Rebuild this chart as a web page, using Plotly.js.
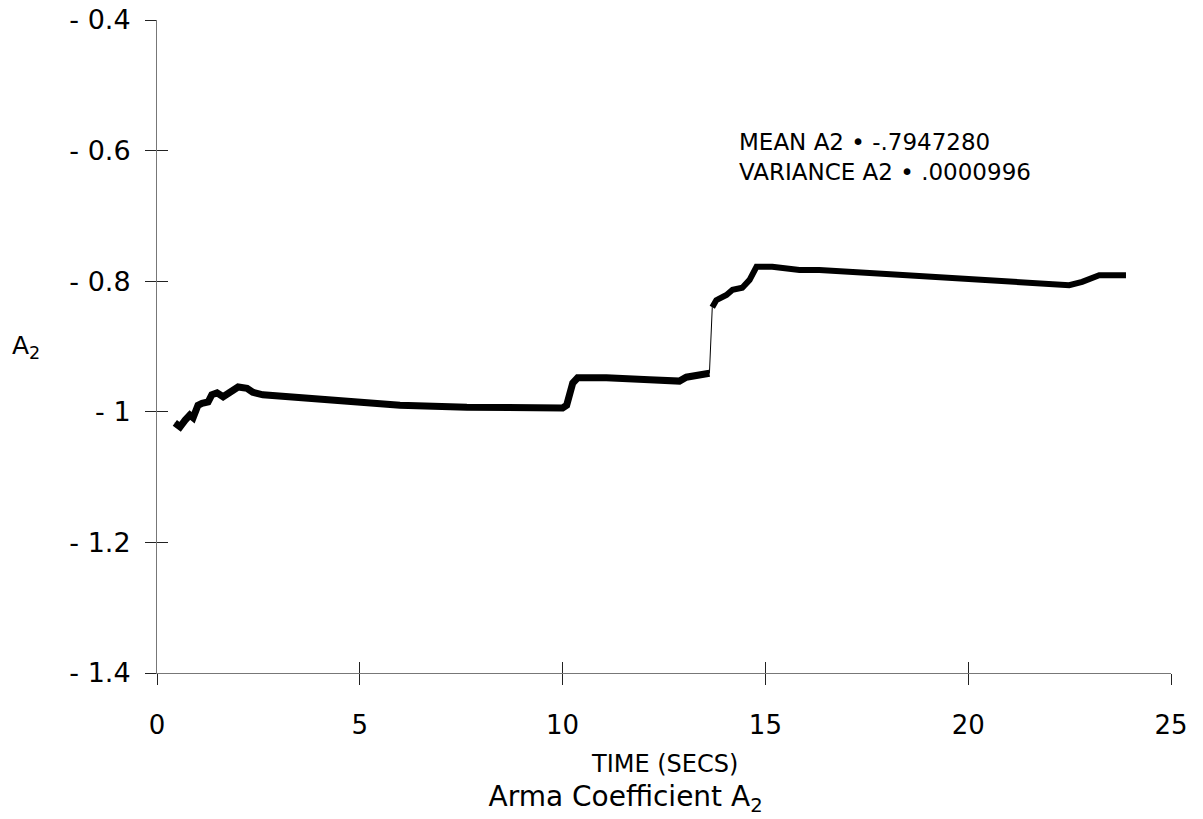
<!DOCTYPE html>
<html>
<head>
<meta charset="utf-8">
<script src="https://cdn.plot.ly/plotly-3.0.1.min.js"></script>
<style>html,body{margin:0;padding:0;background:#fff;}#chart{width:1203px;height:819px;}</style>
</head>
<body>
<div id="chart"></div>
<script>
// Time (s) and ARMA coefficient A2 values
const segA_time = [0.44, 0.57, 0.69, 0.81, 0.89, 1.01, 1.11, 1.26, 1.35, 1.48, 1.63, 1.80, 2.00, 2.22, 2.36, 2.61, 3.28, 3.84, 4.51, 5.99, 7.64, 9.43, 10.00, 10.10, 10.17, 10.25, 10.37, 11.08, 12.14, 12.88, 13.05, 13.62];
const segA_a2   = [-1.017, -1.023, -1.013, -1.005, -1.009, -0.990, -0.987, -0.985, -0.974, -0.971, -0.977, -0.971, -0.962, -0.964, -0.970, -0.974, -0.977, -0.982, -0.985, -0.990, -0.993, -0.993, -0.994, -0.990, -0.971, -0.956, -0.948, -0.948, -0.951, -0.953, -0.947, -0.941];
const segB_time = [13.69, 13.79, 14.04, 14.19, 14.43, 14.61, 14.78, 15.17, 15.84, 16.33, 17.98, 19.61, 21.26, 22.49, 22.81, 23.23, 23.89];
const segB_a2   = [-0.840, -0.829, -0.821, -0.813, -0.810, -0.798, -0.778, -0.778, -0.783, -0.783, -0.789, -0.795, -0.803, -0.806, -0.801, -0.791, -0.791];

const xTickVals = [0, 5, 10, 15, 20, 25];
const xTickText = ["0", "5", "10", "15", "20", "25"];
const yTickVals = [-1.4, -1.2, -1.0, -0.8, -0.6, -0.4];
const yTickText = ["- 1.4", "- 1.2", "- 1", "- 0.8", "- 0.6", "- 0.4"];

const statsLines = ["MEAN A2 \u2022 -.7947280", "VARIANCE A2 \u2022 .0000996"];

const FONT = "DejaVu Sans, Liberation Sans, Arial, sans-serif";

const traces = [
  {
    x: segA_time.concat(segB_time),
    y: segA_a2.concat(segB_a2),
    xaxis: "x2", yaxis: "y2",
    mode: "lines", line: {color: "#000", width: 1},
    hoverinfo: "skip", showlegend: false
  },
  {
    x: segA_time, y: segA_a2,
    mode: "lines", line: {color: "#000", width: 7},
    showlegend: false
  },
  {
    x: segB_time, y: segB_a2,
    mode: "lines", line: {color: "#000", width: 6},
    showlegend: false
  }
];

const axisCommon = {
  showgrid: false, zeroline: false,
  linecolor: "#777", linewidth: 1,
  tickcolor: "#222", tickwidth: 1, ticklen: 11
};

const layout = {
  width: 1203, height: 819,
  margin: {l: 157, r: 32, t: 20, b: 146},
  paper_bgcolor: "#fff", plot_bgcolor: "#fff",
  font: {family: FONT, color: "#000"},
  showlegend: false,
  title: {
    text: "Arma Coefficient A<sub>2</sub>",
    font: {family: FONT, size: 28, color: "#000"},
    x: 0.52, xanchor: "center",
    y: 0.028, yanchor: "middle", yref: "container"
  },
  xaxis: Object.assign({}, axisCommon, {
    range: [0, 25], tickmode: "array", tickvals: xTickVals, ticktext: xTickText,
    ticks: "outside", showline: true, mirror: false,
    tickfont: {family: FONT, size: 26, color: "#000"},
    ticklabelstandoff: 18
  }),
  yaxis: Object.assign({}, axisCommon, {
    range: [-1.4, -0.4], tickmode: "array", tickvals: yTickVals, ticktext: yTickText,
    ticks: "outside", showline: true, mirror: false,
    tickfont: {family: FONT, size: 27, color: "#000"},
    ticklabelstandoff: 9
  }),
  xaxis2: Object.assign({}, axisCommon, {
    range: [0, 25], overlaying: "x", tickmode: "array", tickvals: xTickVals.slice(1),
    ticks: "inside", showticklabels: false, showline: false, anchor: "y2"
  }),
  yaxis2: Object.assign({}, axisCommon, {
    range: [-1.4, -0.4], overlaying: "y", tickmode: "array", tickvals: yTickVals,
    ticks: "inside", showticklabels: false, showline: false, anchor: "x2"
  }),
  annotations: [
    {
      text: "TIME (SECS)", xref: "paper", yref: "paper",
      x: 0.5, y: -0.14, xanchor: "center", yanchor: "middle",
      showarrow: false, font: {family: FONT, size: 24, color: "#000"}
    },
    {
      text: "A<sub>2</sub>", xref: "paper", yref: "y",
      x: -0.145, y: -0.9, xanchor: "left", yanchor: "middle",
      showarrow: false, font: {family: FONT, size: 25, color: "#000"}
    },
    {
      text: statsLines.join("<br>"), xref: "paper", yref: "paper",
      x: 0.572, y: 0.79, xanchor: "left", yanchor: "middle", align: "left",
      showarrow: false, font: {family: FONT, size: 23, color: "#000"}
    }
  ]
};

Plotly.newPlot("chart", traces, layout, {displayModeBar: false, staticPlot: true});
</script>
</body>
</html>
